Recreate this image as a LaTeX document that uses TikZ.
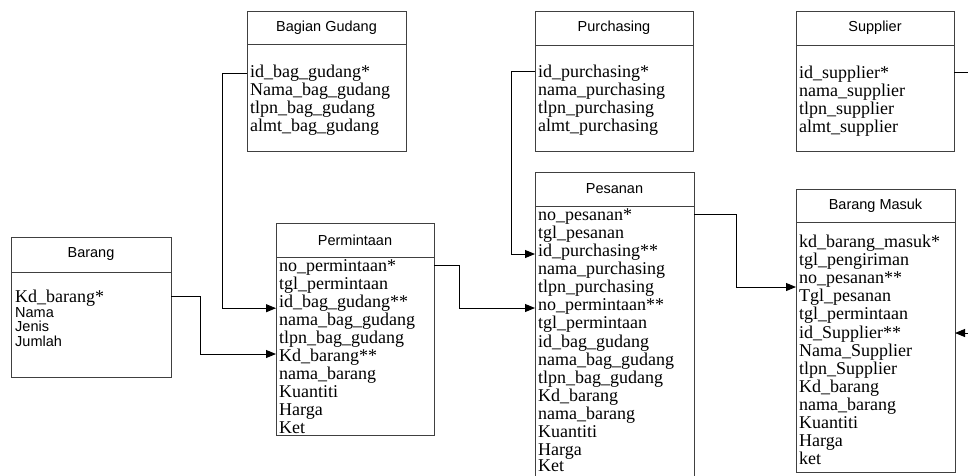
\documentclass[tikz,border=0pt]{standalone}
\usepackage{fontspec}
\setmainfont{Liberation Serif}
\setsansfont{Liberation Sans}
\usetikzlibrary{arrows.meta,calc}

\begin{document}
\begin{tikzpicture}[x=1pt,y=-1pt,
head/.style={draw=black!75,line width=0.9pt,inner sep=0pt,outer sep=0pt,anchor=north west,font=\sffamily\fontsize{14.5}{16}\selectfont},
body/.style={draw=black!75,line width=0.9pt,inner sep=0pt,outer sep=0pt,anchor=north west},
attr/.style={anchor=base west,inner sep=0pt,font=\fontsize{18}{18}\selectfont},
attrs/.style={anchor=base west,inner sep=0pt,font=\sffamily\fontsize{14.5}{16}\selectfont},
link/.style={line width=0.9pt,-{Triangle[length=10pt,width=8pt]}}]
\useasboundingbox (0,0) rectangle (968,475);
\clip (0,0) rectangle (968,475);
%================================================================
%	Tables
\node[head, minimum width=160pt, minimum height=35pt] (ba-t) at (11,237) {Barang};
\node[body, minimum width=160pt, minimum height=105pt] (ba) at (11,272) {};
%----------------------------------------------------------------
\node[head, minimum width=159pt, minimum height=33pt] (bg-t) at (247,11) {Bagian Gudang};
\node[body, minimum width=159pt, minimum height=107pt] (bg) at (247,44) {};
%----------------------------------------------------------------
\node[head, minimum width=158pt, minimum height=34pt] (pm-t) at (276,223) {Permintaan};
\node[body, minimum width=158pt, minimum height=178pt] (pm) at (276,257) {};
%----------------------------------------------------------------
\node[head, minimum width=158pt, minimum height=34pt] (pu-t) at (535,11) {Purchasing};
\node[body, minimum width=158pt, minimum height=106pt] (pu) at (535,45) {};
%----------------------------------------------------------------
\node[head, minimum width=159pt, minimum height=34pt] (ps-t) at (535,172) {Pesanan};
\node[body, minimum width=159pt, minimum height=284pt] (ps) at (535,206) {};
%----------------------------------------------------------------
\node[head, minimum width=158pt, minimum height=34pt] (su-t) at (796,11) {Supplier};
\node[body, minimum width=158pt, minimum height=106pt] (su) at (796,45) {};
%----------------------------------------------------------------
\node[head, minimum width=159pt, minimum height=33pt] (bm-t) at (796,189) {Barang Masuk};
\node[body, minimum width=159pt, minimum height=250pt] (bm) at (796,222) {};

%================================================================
%	Fields
\node[attr] (ba-1) at (15,302) {Kd\_barang*};
\node[attrs] (ba-2) at (15,317) {Nama};
\node[attrs] (ba-3) at (15,331.5) {Jenis};
\node[attrs] (ba-4) at (15,346) {Jumlah};
%----------------------------------------------------------------
\node[attr] (bg-1) at (250,77) {id\_bag\_gudang*};
\node[attr] (bg-2) at (250,95) {Nama\_bag\_gudang};
\node[attr] (bg-3) at (250,113) {tlpn\_bag\_gudang};
\node[attr] (bg-4) at (250,131) {almt\_bag\_gudang};
%----------------------------------------------------------------
\node[attr] (pm-1) at (279,271) {no\_permintaan*};
\node[attr] (pm-2) at (279,289.1) {tgl\_permintaan};
\node[attr] (pm-3) at (279,307.2) {id\_bag\_gudang**};
\node[attr] (pm-4) at (279,325.3) {nama\_bag\_gudang};
\node[attr] (pm-5) at (279,343.4) {tlpn\_bag\_gudang};
\node[attr] (pm-6) at (279,361.5) {Kd\_barang**};
\node[attr] (pm-7) at (279,379.6) {nama\_barang};
\node[attr] (pm-8) at (279,397.7) {Kuantiti};
\node[attr] (pm-9) at (279,415.8) {Harga};
\node[attr] (pm-10) at (279,433.9) {Ket};
%----------------------------------------------------------------
\node[attr] (pu-1) at (538,77) {id\_purchasing*};
\node[attr] (pu-2) at (538,95) {nama\_purchasing};
\node[attr] (pu-3) at (538,113) {tlpn\_purchasing};
\node[attr] (pu-4) at (538,131) {almt\_purchasing};
%----------------------------------------------------------------
\node[attr] (ps-1) at (538,220) {no\_pesanan*};
\node[attr] (ps-2) at (538,238.15) {tgl\_pesanan};
\node[attr] (ps-3) at (538,256.3) {id\_purchasing**};
\node[attr] (ps-4) at (538,274.45) {nama\_purchasing};
\node[attr] (ps-5) at (538,292.6) {tlpn\_purchasing};
\node[attr] (ps-6) at (538,310.75) {no\_permintaan**};
\node[attr] (ps-7) at (538,328.9) {tgl\_permintaan};
\node[attr] (ps-8) at (538,347.05) {id\_bag\_gudang};
\node[attr] (ps-9) at (538,365.2) {nama\_bag\_gudang};
\node[attr] (ps-10) at (538,383.35) {tlpn\_bag\_gudang};
\node[attr] (ps-11) at (538,401.5) {Kd\_barang};
\node[attr] (ps-12) at (538,419.65) {nama\_barang};
\node[attr] (ps-13) at (538,437.8) {Kuantiti};
\node[attr] (ps-14) at (538,455) {Harga};
\node[attr] (ps-15) at (538,471.5) {Ket};
%----------------------------------------------------------------
\node[attr] (su-1) at (799,78) {id\_supplier*};
\node[attr] (su-2) at (799,96) {nama\_supplier};
\node[attr] (su-3) at (799,114) {tlpn\_supplier};
\node[attr] (su-4) at (799,132) {almt\_supplier};
%----------------------------------------------------------------
\node[attr] (bm-1) at (799,247.5) {kd\_barang\_masuk*};
\node[attr] (bm-2) at (799,265.6) {tgl\_pengiriman};
\node[attr] (bm-3) at (799,283.7) {no\_pesanan**};
\node[attr] (bm-4) at (799,301.8) {Tgl\_pesanan};
\node[attr] (bm-5) at (799,319.9) {tgl\_permintaan};
\node[attr] (bm-6) at (799,338) {id\_Supplier**};
\node[attr] (bm-7) at (799,356.1) {Nama\_Supplier};
\node[attr] (bm-8) at (799,374.2) {tlpn\_Supplier};
\node[attr] (bm-9) at (799,392.3) {Kd\_barang};
\node[attr] (bm-10) at (799,410.4) {nama\_barang};
\node[attr] (bm-11) at (799,428.5) {Kuantiti};
\node[attr] (bm-12) at (799,446.6) {Harga};
\node[attr] (bm-13) at (799,464.7) {ket};

%================================================================
%	Relations
\draw[link] ($(bg.west |- bg-1.base)+(0,-4)$) -- ++(-25,0) |- ($(pm.west |- pm-3.base)+(0,1)$);
\draw[link] ($(ba.east |- ba-1.base)+(0,-6)$) -- ++(29,0) |- ($(pm.west |- pm-6.base)+(0,-7.5)$);
\draw[link] ($(pm.east |- pm-1.base)+(0,-6)$) -- ++(25,0) |- ($(ps.west |- ps-6.base)+(0,-2.75)$);
\draw[link] ($(pu.west |- pu-1.base)+(0,-6)$) -- ++(-24,0) |- ($(ps.west |- ps-3.base)+(0,-2.3)$);
\draw[link] ($(ps.east |- ps-1.base)+(0,-6)$) -- ++(42,0) |- ($(bm.west |- bm-3.base)+(0,3.3)$);
\draw[link] ($(su.east |- su-1.base)+(0,-6)$) -- ++(31,0) |- ($(bm.east |- bm-6.base)+(0,-5)$);
%================================================================
\end{tikzpicture}
\end{document}
